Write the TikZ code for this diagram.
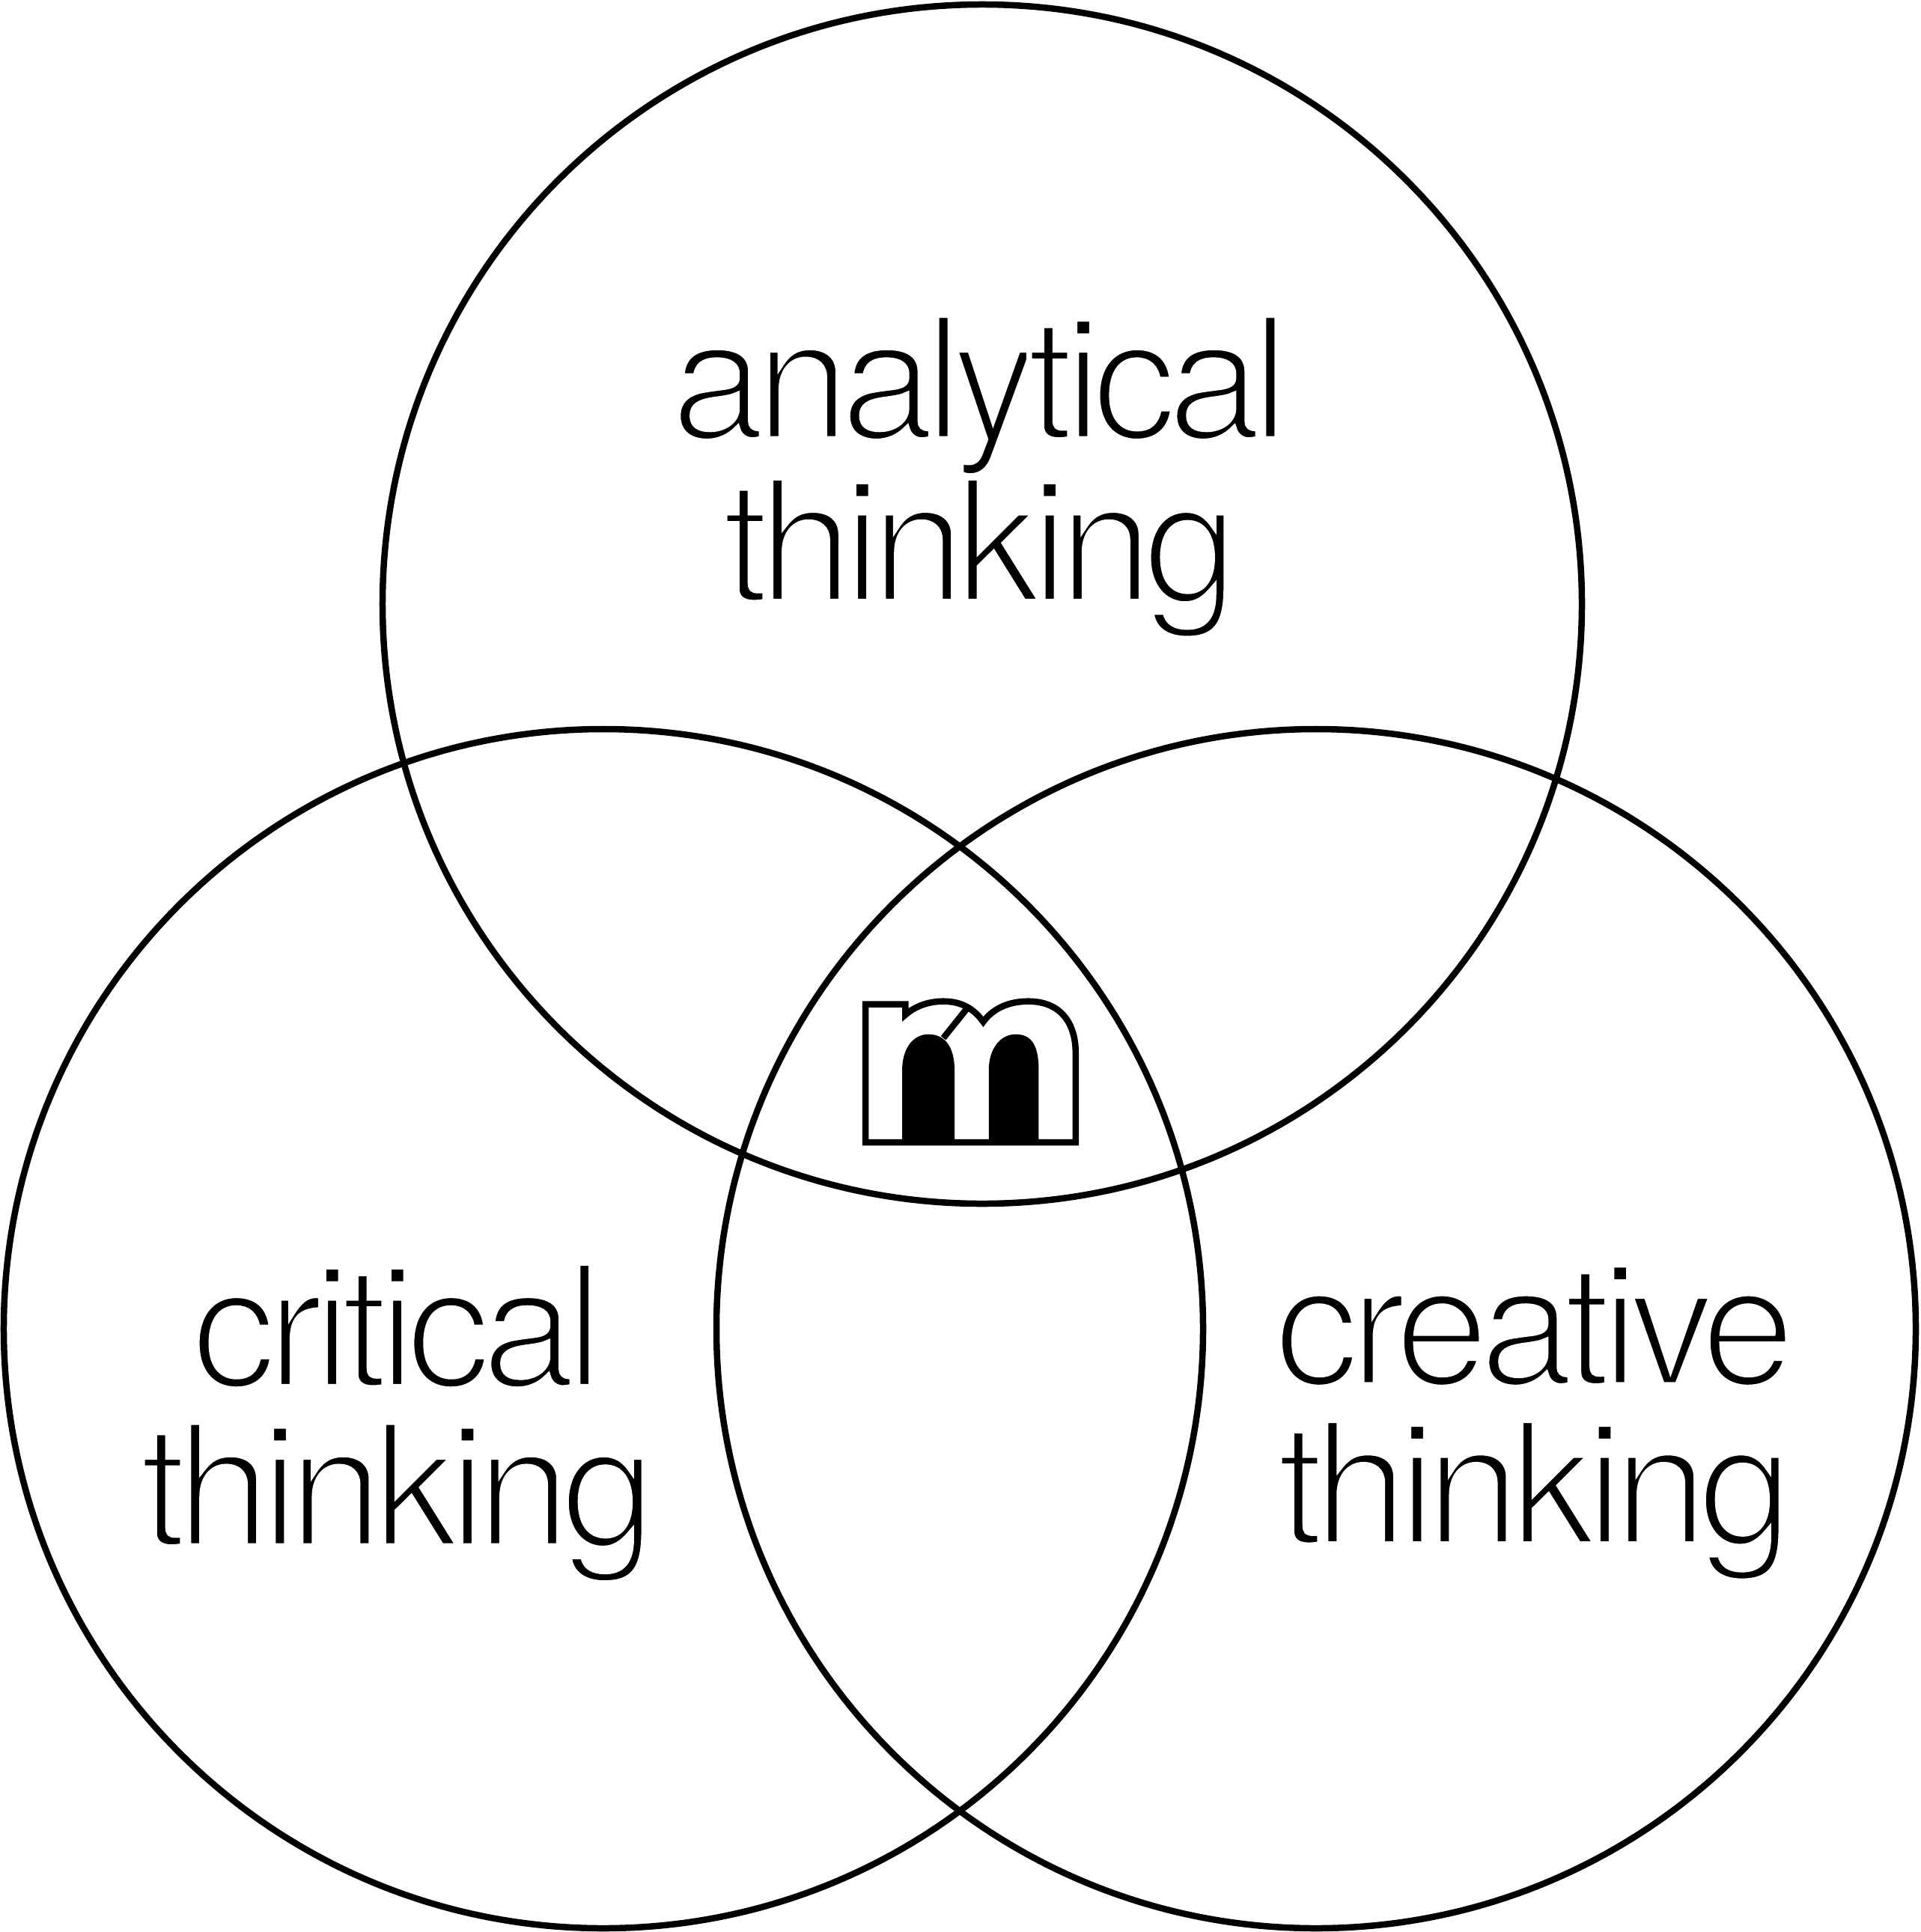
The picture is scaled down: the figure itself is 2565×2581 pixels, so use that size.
\documentclass[tikz,border=0pt]{standalone}
\usepackage{fontspec}
\setmainfont{TeX Gyre Heros}
\newfontfamily\lightfont[LetterSpace=-5.9,Ligatures=NoCommon]{TeX Gyre Heros}
\newcommand{\thinstroke}{\special{pdf:code 2 Tr 1 1 1 RG 4.5 w}}
\begin{document}
\begin{tikzpicture}[
    x=0.2mm,
    y=-0.2mm,
    ring/.style={
        draw,
        circle,
        line width=1.7mm,
        minimum size=320.4mm,
        inner sep=0pt
    },
    thinking/.style={
        align=center,
        inner sep=0pt,
        font=\fontsize{129.5}{121}\selectfont\lightfont
    },
    logoline/.style={line width=1.7mm, line join=miter}
]
\useasboundingbox (0,0) rectangle (2565,2581);

\node[ring] (analytical) at (1312,807) {};
\node[ring] (critical) at (806,1775) {};
\node[ring] (creative) at (1758,1775) {};

\node[thinking] (analyticallabel) at (1309,637) {\thinstroke analytical\\thinking};
\node[thinking] (criticallabel) at (531,1901) {\thinstroke critical\\thinking};
\node[thinking] (creativelabel) at (2050,1901) {\thinstroke creative\\thinking};

% logo
\begin{scope}[shift={(1100,1290)}, x=0.0667mm, y=-0.0667mm]
\draw[logoline] (168,155) -- (328,155) -- (328,197)
    .. controls (370,160) and (425,143) .. (480,143)
    .. controls (550,143) and (600,170) .. (640,225)
    .. controls (680,170) and (745,143) .. (820,143)
    .. controls (950,143) and (1010,230) .. (1010,350)
    -- (1010,708) -- (168,708) -- cycle;
\fill (315,700) -- (315,420)
    .. controls (315,330) and (360,275) .. (420,275)
    .. controls (490,275) and (525,330) .. (525,420)
    -- (525,700) -- cycle;
\fill (662,700) -- (662,420)
    .. controls (662,330) and (710,275) .. (770,275)
    .. controls (840,275) and (862,330) .. (862,420)
    -- (862,700) -- cycle;
\draw[logoline] (480,290) -- (572,175);
\end{scope}

\end{tikzpicture}
\end{document}
